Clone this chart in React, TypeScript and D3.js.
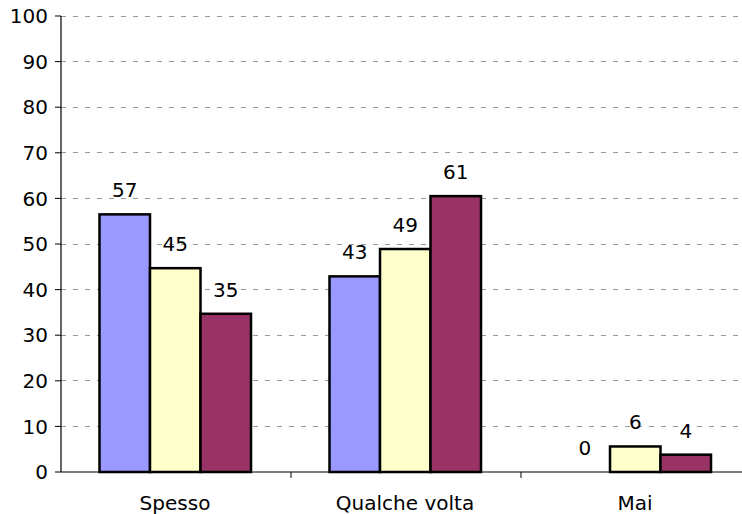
import { useEffect, useRef } from 'react'
import * as d3 from 'd3'

const categories = ['Spesso', 'Qualche volta', 'Mai']
const seriesNames = ['Serie 1', 'Serie 2', 'Serie 3']
// values per series, one per category
const serie1 = [56.5, 42.9, 0]
const serie2 = [44.7, 48.9, 5.6]
const serie3 = [34.7, 60.5, 3.8]
const yTicks = [0, 10, 20, 30, 40, 50, 60, 70, 80, 90, 100]

const COLORS = ['#9999ff', '#ffffcc', '#993366']

export default function App() {
  const svgRef = useRef<SVGSVGElement>(null)

  useEffect(() => {
    if (!svgRef.current) return
    const svg = d3.select(svgRef.current)
    svg.selectAll('*').remove()

    const W = 742
    const H = 514
    const left = 61
    const top = 16
    const bottom = 472
    const font = 'Verdana, "DejaVu Sans", sans-serif'
    const fs = 20

    const x = d3.scaleBand<string>().domain(categories).range([left, left + 690])
    const inner = d3.scaleBand<string>().domain(seriesNames).range([0, 151.5])
    const y = d3.scaleLinear().domain([0, 100]).range([bottom, top])

    const series = [serie1, serie2, serie3]

    // gridlines
    svg.append('g')
      .selectAll('line')
      .data(yTicks.filter(t => t > 0))
      .join('line')
      .attr('x1', left)
      .attr('x2', W)
      .attr('y1', d => y(d))
      .attr('y2', d => y(d))
      .attr('stroke', '#999')
      .attr('stroke-width', 1)
      .attr('stroke-dasharray', '5,7')
      .attr('shape-rendering', 'crispEdges')

    // bars
    categories.forEach((cat, ci) => {
      const x0 = x(cat)! + x.bandwidth() / 2 - 76.5
      series.forEach((vals, si) => {
        const v = vals[ci]
        const bx = x0 + inner(seriesNames[si])!
        if (v > 0) {
          svg.append('rect')
            .attr('x', bx)
            .attr('y', y(v))
            .attr('width', inner.bandwidth())
            .attr('height', y(0) - y(v))
            .attr('fill', COLORS[si])
            .attr('stroke', '#000')
            .attr('stroke-width', 2.5)
        }
        svg.append('text')
          .attr('x', bx + inner.bandwidth() / 2)
          .attr('y', y(v) - 17)
          .attr('text-anchor', 'middle')
          .attr('font-family', font)
          .attr('font-size', fs)
          .attr('fill', '#000')
          .text(Math.round(v))
      })
    })

    // y axis
    svg.append('line')
      .attr('x1', left).attr('x2', left)
      .attr('y1', top).attr('y2', bottom)
      .attr('stroke', '#000').attr('stroke-width', 1.2)
    svg.append('g')
      .selectAll('line')
      .data(yTicks)
      .join('line')
      .attr('x1', left - 6).attr('x2', left)
      .attr('y1', d => y(d)).attr('y2', d => y(d))
      .attr('stroke', '#000')
    svg.append('g')
      .selectAll('text')
      .data(yTicks)
      .join('text')
      .attr('x', 48)
      .attr('y', d => y(d))
      .attr('dy', '0.36em')
      .attr('text-anchor', 'end')
      .attr('font-family', font)
      .attr('font-size', fs)
      .attr('fill', '#000')
      .text(d => d)

    // x axis
    svg.append('line')
      .attr('x1', left).attr('x2', W)
      .attr('y1', bottom).attr('y2', bottom)
      .attr('stroke', '#000').attr('stroke-width', 1.2)
    svg.append('g')
      .selectAll('line')
      .data(categories.slice(1))
      .join('line')
      .attr('x1', d => x(d)!).attr('x2', d => x(d)!)
      .attr('y1', bottom).attr('y2', bottom + 6)
      .attr('stroke', '#000')
    svg.append('g')
      .selectAll('text')
      .data(categories)
      .join('text')
      .attr('x', d => x(d)! + x.bandwidth() / 2 - 1)
      .attr('y', 510)
      .attr('text-anchor', 'middle')
      .attr('font-family', font)
      .attr('font-size', fs)
      .attr('fill', '#000')
      .text(d => d)

    svg.attr('width', W).attr('height', H)
  }, [])

  return (
    <svg
      ref={svgRef}
      style={{ position: 'absolute', left: 0, top: 0, display: 'block', background: '#fff' }}
    />
  )
}
